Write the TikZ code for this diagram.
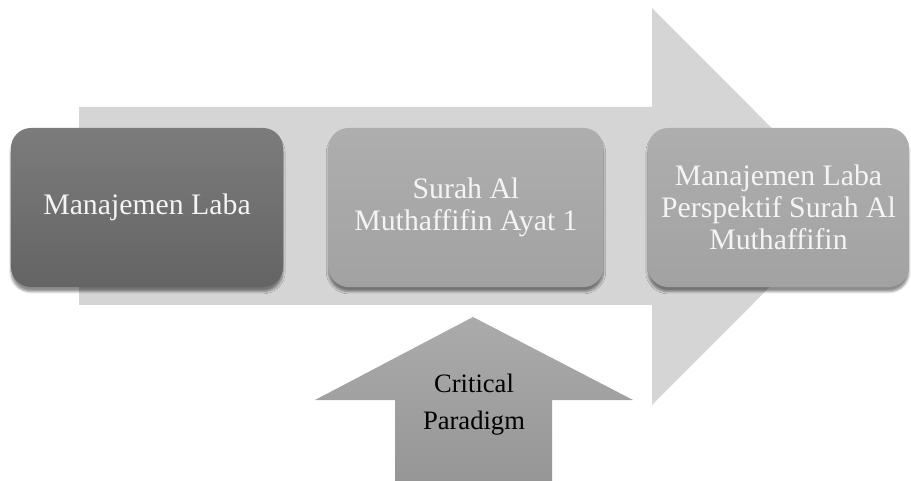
\documentclass[tikz,border=0pt]{standalone}
\usepackage{fontspec}
\setmainfont{Liberation Serif}
\usepackage{xcolor}
\usetikzlibrary{positioning, shadows.blur}

\definecolor{flowgray}{HTML}{D5D5D5}
\definecolor{darktop}{HTML}{7C7C7C}
\definecolor{darkbot}{HTML}{646464}
\definecolor{lighttop}{HTML}{AEAEAE}
\definecolor{lightbot}{HTML}{A2A2A2}
\definecolor{uptop}{HTML}{ABABAB}
\definecolor{upbot}{HTML}{969696}
\definecolor{textwhite}{HTML}{F4F4F4}

\begin{document}
\begin{tikzpicture}[
    x=0.03cm, y=-0.03cm,
    node distance=1.35cm,
    every node/.style={align=center},
    stage/.style={rectangle, rounded corners=0.6cm, minimum height=4.77cm, text=textwhite, font=\fontsize{25.4}{27.5}\selectfont, blur shadow={shadow xshift=0pt, shadow yshift=-4pt, shadow blur steps=6, shadow opacity=45}},
    darkstage/.style={stage, minimum width=8.16cm, top color=darktop, bottom color=darkbot},
    lightstage/.style={stage, minimum width=8.25cm, top color=lighttop, bottom color=lightbot},
    flow/.style={fill=flowgray},
    push/.style={top color=uptop, bottom color=upbot}
]
\useasboundingbox (0,0) rectangle (911,481);

% Main flow arrow
\path[flow] (79,107) -- (652,107) -- (652,8) -- (850,206.5) -- (652,405) -- (652,305) -- (79,305) -- cycle;

% Paradigm arrow
\path[push] (395,481) -- (395,400) -- (315,400) -- (473,317) -- (633,400) -- (552,400) -- (552,481) -- cycle;
\node (paradigm) at (474,405) [font=\fontsize{22.7}{31.5}\selectfont] {Critical\\Paradigm};

% Stages
\node (laba) at (147,207.5) [darkstage] {Manajemen Laba};
\node (surah) [lightstage, right=of laba] {Surah Al\\Muthaffifin Ayat 1};
\node (hasil) [lightstage, minimum width=7.83cm, right=1.32cm of surah] {Manajemen Laba\\Perspektif Surah Al\\Muthaffifin};

\end{tikzpicture}
\end{document}
